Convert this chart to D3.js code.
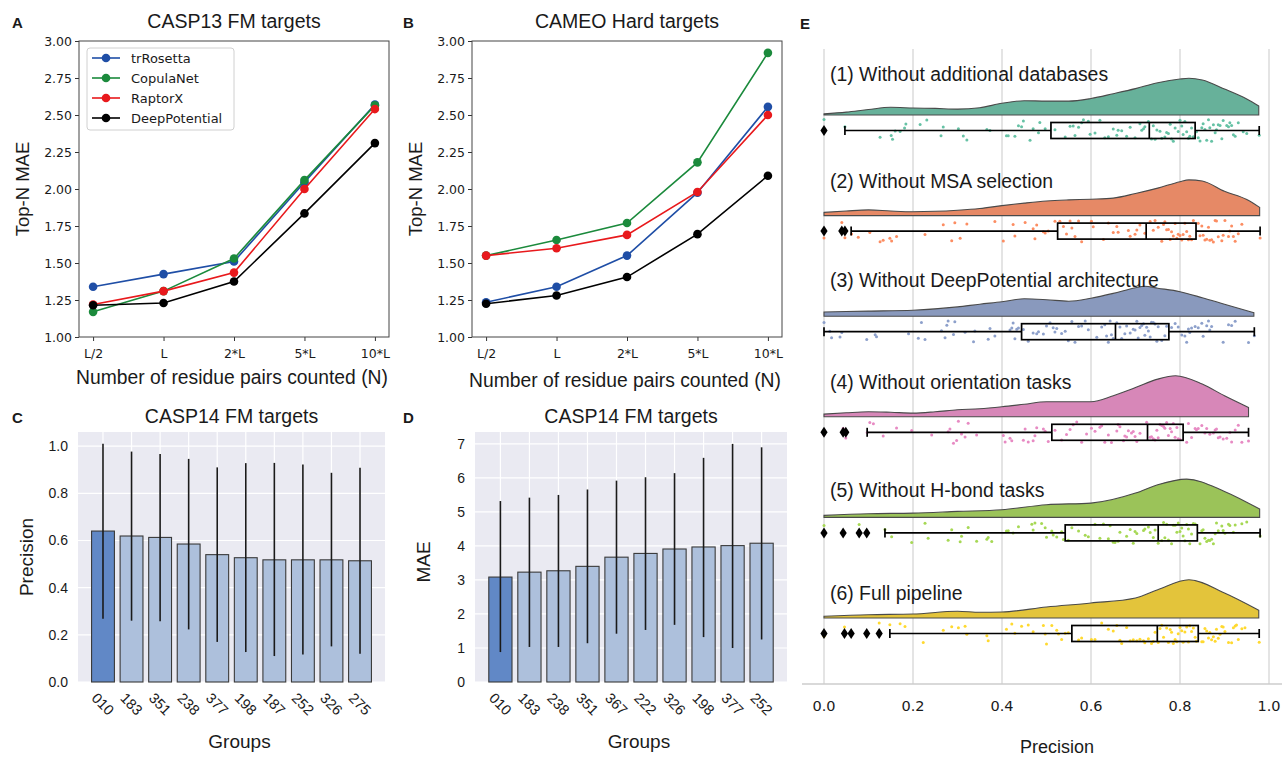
<!DOCTYPE html>
<html>
<head>
<meta charset="utf-8">
<script src="https://cdn.jsdelivr.net/npm/d3@7"></script>
<style>
body { margin: 0; background: #fff; }
text { font-family: "Liberation Sans", Arial, sans-serif; fill: #1a1a1a; }
.dv text, text.dv { font-family: "DejaVu Sans", sans-serif; }
</style>
</head>
<body>
<svg id="fig" width="1282" height="757"></svg>
<script>
// ---------- data: panels A and B ----------
const nLabels = ["L/2", "L", "2*L", "5*L", "10*L"];
const methods = ["trRosetta", "CopulaNet", "RaptorX", "DeepPotential"];
const methodColors = ["#1f4ea6", "#1b8a3c", "#e8191c", "#000000"];
const casp13 = [
    [1.34, 1.425, 1.51, 2.045, 2.57],
    [1.17, 1.31, 1.53, 2.06, 2.565],
    [1.22, 1.31, 1.435, 2.00, 2.54],
    [1.215, 1.23, 1.375, 1.835, 2.31]
];
const cameo = [
    [1.235, 1.34, 1.55, 1.975, 2.555],
    [1.55, 1.655, 1.77, 2.18, 2.92],
    [1.55, 1.60, 1.69, 1.98, 2.50],
    [1.225, 1.28, 1.405, 1.695, 2.09]
];
const maeTicks = [1.00, 1.25, 1.50, 1.75, 2.00, 2.25, 2.50, 2.75, 3.00];

// ---------- data: panels C and D ----------
const precGroups = ["010", "183", "351", "238", "377", "198", "187", "252", "326", "275"];
const precMean = [0.640, 0.619, 0.613, 0.585, 0.540, 0.527, 0.518, 0.518, 0.518, 0.514];
const precLo = [0.268, 0.260, 0.258, 0.223, 0.170, 0.127, 0.110, 0.117, 0.151, 0.120];
const precHi = [1.010, 0.977, 0.967, 0.946, 0.910, 0.928, 0.929, 0.922, 0.887, 0.908];
const precTicks = [0.0, 0.2, 0.4, 0.6, 0.8, 1.0];

const maeGroups = ["010", "183", "238", "351", "367", "222", "326", "198", "377", "252"];
const maeMean = [3.085, 3.23, 3.27, 3.40, 3.67, 3.78, 3.91, 3.97, 4.01, 4.08];
const maeLo = [0.88, 1.03, 1.03, 1.14, 1.42, 1.53, 1.68, 1.32, 1.00, 1.25];
const maeHi = [5.32, 5.42, 5.50, 5.66, 5.92, 6.02, 6.14, 6.59, 7.00, 6.90];
const maeBarTicks = [0, 1, 2, 3, 4, 5, 6, 7];

// ---------- data: panel E ----------
const rowNames = [
    "(1) Without additional databases",
    "(2) Without MSA selection",
    "(3) Without DeepPotential architecture",
    "(4) Without orientation tasks",
    "(5) Without H-bond tasks",
    "(6) Full pipeline"
];
const rowColors = ["#66c2a5", "#fc8d62", "#8da0cb", "#e78ac3", "#a6d854", "#ffd92f"];
const eTicks = [0.0, 0.2, 0.4, 0.6, 0.8, 1.0];

// density: [precision, density]
const kde1 = [[0, 0.11], [0.05, 0.29], [0.1, 0.55], [0.15, 0.77], [0.2, 0.7], [0.25, 0.66], [0.3, 0.59], [0.35, 0.73], [0.4, 1.17], [0.45, 1.43], [0.5, 1.39], [0.55, 1.39], [0.6, 1.65], [0.65, 2.13], [0.7, 2.64], [0.75, 3.23], [0.8, 3.6], [0.82, 3.67], [0.85, 3.5], [0.9, 2.6], [0.95, 1.6], [0.977, 0.9]];
const kde2 = [[0, 0.32], [0.05, 0.46], [0.1, 0.57], [0.15, 0.46], [0.2, 0.39], [0.25, 0.43], [0.3, 0.54], [0.35, 0.71], [0.4, 1.0], [0.45, 1.25], [0.5, 1.46], [0.55, 1.57], [0.6, 1.64], [0.65, 1.75], [0.7, 2.21], [0.75, 2.75], [0.8, 3.39], [0.82, 3.57], [0.85, 3.46], [0.9, 2.43], [0.95, 1.61], [0.979, 0.82]];
const kde3 = [[0, 0.42], [0.1, 0.51], [0.2, 0.6], [0.3, 0.93], [0.35, 1.2], [0.4, 1.44], [0.45, 1.74], [0.5, 1.65], [0.55, 1.5], [0.6, 1.8], [0.65, 2.28], [0.7, 2.85], [0.72, 3.0], [0.75, 2.8], [0.8, 2.45], [0.85, 1.85], [0.9, 1.2], [0.966, 0.35]];
const kde4 = [[0, 0.27], [0.05, 0.4], [0.1, 0.5], [0.15, 0.45], [0.2, 0.37], [0.25, 0.5], [0.3, 0.7], [0.35, 0.8], [0.4, 1.0], [0.45, 1.25], [0.5, 1.5], [0.55, 1.5], [0.6, 1.5], [0.65, 2.1], [0.7, 2.93], [0.75, 3.77], [0.79, 4.1], [0.85, 3.27], [0.9, 2.1], [0.954, 0.93]];
const kde5 = [[0, 0.2], [0.1, 0.37], [0.2, 0.43], [0.3, 0.6], [0.4, 0.77], [0.5, 1.27], [0.6, 1.43], [0.7, 2.43], [0.75, 3.27], [0.815, 3.83], [0.9, 2.6], [0.979, 0.83]];
const kde6 = [[0, 0.17], [0.1, 0.33], [0.2, 0.4], [0.3, 0.67], [0.35, 0.57], [0.4, 0.6], [0.5, 1.1], [0.6, 1.5], [0.7, 2.0], [0.75, 2.83], [0.82, 3.83], [0.9, 2.5], [0.977, 0.77]];
const kdes = [kde1, kde2, kde3, kde4, kde5, kde6];

const boxLo = [0.047, 0.061, 0.000, 0.097, 0.137, 0.148];
const boxQ1 = [0.510, 0.525, 0.444, 0.512, 0.542, 0.557];
const boxMed = [0.731, 0.724, 0.655, 0.727, 0.751, 0.749];
const boxQ3 = [0.834, 0.836, 0.775, 0.807, 0.839, 0.841];
const boxHi = [0.978, 0.980, 0.967, 0.954, 0.980, 0.978];
const fliers = [[0], [0, 0.040, 0.047], [], [0, 0.043, 0.049], [0, 0.043, 0.079, 0.096], [0, 0.046, 0.061, 0.096, 0.124]];

const pts1 = [0, 0.047, 0.126, 0.151, 0.154, 0.16, 0.171, 0.181, 0.184, 0.216, 0.231, 0.263, 0.268, 0.302, 0.313, 0.321, 0.366, 0.373, 0.41, 0.414, 0.429, 0.437, 0.444, 0.448, 0.463, 0.47, 0.482, 0.485, 0.497, 0.519, 0.542, 0.553, 0.56, 0.564, 0.572, 0.579, 0.583, 0.594, 0.598, 0.609, 0.62, 0.631, 0.639, 0.65, 0.658, 0.661, 0.669, 0.68, 0.688, 0.699, 0.71, 0.714, 0.718, 0.721, 0.729, 0.736, 0.74, 0.744, 0.748, 0.755, 0.759, 0.766, 0.77, 0.774, 0.778, 0.781, 0.785, 0.789, 0.796, 0.8, 0.804, 0.807, 0.811, 0.815, 0.819, 0.822, 0.826, 0.83, 0.837, 0.841, 0.845, 0.849, 0.852, 0.856, 0.86, 0.864, 0.867, 0.871, 0.875, 0.879, 0.882, 0.886, 0.89, 0.894, 0.897, 0.905, 0.909, 0.912, 0.916, 0.92, 0.924, 0.931, 0.942, 0.95, 0.978];
const pts2 = [0, 0.04, 0.047, 0.062, 0.077, 0.103, 0.126, 0.133, 0.148, 0.152, 0.163, 0.227, 0.268, 0.287, 0.294, 0.306, 0.321, 0.384, 0.403, 0.425, 0.429, 0.452, 0.47, 0.474, 0.478, 0.493, 0.497, 0.504, 0.519, 0.53, 0.538, 0.545, 0.553, 0.557, 0.564, 0.572, 0.579, 0.601, 0.605, 0.628, 0.639, 0.65, 0.658, 0.661, 0.684, 0.688, 0.699, 0.703, 0.71, 0.721, 0.733, 0.74, 0.744, 0.751, 0.759, 0.763, 0.766, 0.77, 0.774, 0.778, 0.781, 0.785, 0.789, 0.793, 0.796, 0.8, 0.804, 0.807, 0.811, 0.815, 0.819, 0.822, 0.826, 0.83, 0.841, 0.845, 0.849, 0.852, 0.856, 0.86, 0.864, 0.867, 0.871, 0.875, 0.879, 0.882, 0.886, 0.894, 0.897, 0.901, 0.909, 0.912, 0.916, 0.92, 0.924, 0.931, 0.939, 0.98];
const pts3 = [0, 0.013, 0.017, 0.036, 0.04, 0.096, 0.115, 0.118, 0.19, 0.212, 0.219, 0.227, 0.264, 0.272, 0.276, 0.279, 0.291, 0.294, 0.317, 0.336, 0.339, 0.369, 0.373, 0.384, 0.418, 0.422, 0.425, 0.429, 0.433, 0.437, 0.448, 0.459, 0.47, 0.478, 0.482, 0.493, 0.5, 0.508, 0.515, 0.519, 0.523, 0.534, 0.542, 0.549, 0.557, 0.564, 0.572, 0.579, 0.587, 0.594, 0.613, 0.624, 0.631, 0.635, 0.639, 0.643, 0.646, 0.65, 0.658, 0.665, 0.669, 0.676, 0.68, 0.688, 0.695, 0.699, 0.703, 0.706, 0.71, 0.714, 0.718, 0.721, 0.725, 0.729, 0.733, 0.736, 0.74, 0.744, 0.748, 0.751, 0.759, 0.766, 0.77, 0.781, 0.789, 0.796, 0.804, 0.811, 0.815, 0.819, 0.822, 0.826, 0.834, 0.841, 0.849, 0.852, 0.86, 0.864, 0.867, 0.871, 0.897, 0.909, 0.916, 0.924, 0.954, 0.967];
const pts4 = [0, 0.043, 0.049, 0.097, 0.103, 0.111, 0.133, 0.163, 0.197, 0.242, 0.279, 0.283, 0.291, 0.298, 0.302, 0.309, 0.317, 0.324, 0.343, 0.403, 0.407, 0.418, 0.422, 0.448, 0.452, 0.459, 0.47, 0.474, 0.478, 0.493, 0.497, 0.504, 0.519, 0.534, 0.545, 0.553, 0.56, 0.568, 0.579, 0.59, 0.601, 0.609, 0.62, 0.624, 0.631, 0.639, 0.646, 0.658, 0.661, 0.665, 0.673, 0.676, 0.68, 0.684, 0.691, 0.695, 0.699, 0.703, 0.71, 0.725, 0.733, 0.736, 0.74, 0.744, 0.748, 0.751, 0.755, 0.759, 0.763, 0.766, 0.77, 0.774, 0.778, 0.781, 0.785, 0.789, 0.793, 0.796, 0.8, 0.815, 0.819, 0.826, 0.834, 0.837, 0.841, 0.849, 0.856, 0.86, 0.867, 0.875, 0.879, 0.882, 0.886, 0.89, 0.897, 0.905, 0.912, 0.916, 0.924, 0.931, 0.939, 0.954];
const pts5 = [0, 0.043, 0.079, 0.096, 0.137, 0.152, 0.197, 0.227, 0.234, 0.279, 0.287, 0.306, 0.309, 0.324, 0.343, 0.366, 0.369, 0.377, 0.41, 0.414, 0.425, 0.437, 0.467, 0.47, 0.474, 0.489, 0.497, 0.5, 0.512, 0.515, 0.523, 0.534, 0.538, 0.549, 0.557, 0.572, 0.587, 0.594, 0.609, 0.62, 0.628, 0.639, 0.643, 0.65, 0.654, 0.661, 0.665, 0.68, 0.688, 0.695, 0.699, 0.703, 0.718, 0.721, 0.729, 0.733, 0.74, 0.744, 0.751, 0.759, 0.763, 0.766, 0.77, 0.774, 0.781, 0.785, 0.789, 0.793, 0.796, 0.8, 0.804, 0.807, 0.811, 0.815, 0.819, 0.822, 0.826, 0.83, 0.834, 0.845, 0.849, 0.852, 0.856, 0.86, 0.864, 0.867, 0.871, 0.875, 0.879, 0.882, 0.886, 0.894, 0.897, 0.901, 0.909, 0.912, 0.92, 0.924, 0.939, 0.95, 0.98];
const pts6 = [0, 0.046, 0.061, 0.096, 0.124, 0.148, 0.171, 0.182, 0.223, 0.268, 0.287, 0.302, 0.317, 0.321, 0.366, 0.369, 0.41, 0.422, 0.429, 0.444, 0.459, 0.47, 0.493, 0.497, 0.5, 0.512, 0.523, 0.527, 0.534, 0.542, 0.549, 0.572, 0.579, 0.601, 0.609, 0.624, 0.639, 0.65, 0.658, 0.665, 0.669, 0.68, 0.688, 0.695, 0.703, 0.71, 0.718, 0.721, 0.729, 0.736, 0.74, 0.744, 0.751, 0.755, 0.759, 0.763, 0.77, 0.774, 0.778, 0.781, 0.785, 0.789, 0.793, 0.796, 0.8, 0.804, 0.807, 0.811, 0.815, 0.819, 0.822, 0.826, 0.83, 0.834, 0.837, 0.849, 0.852, 0.856, 0.86, 0.864, 0.867, 0.871, 0.875, 0.879, 0.882, 0.886, 0.89, 0.894, 0.897, 0.901, 0.909, 0.916, 0.92, 0.924, 0.927, 0.931, 0.939, 0.946, 0.978];
const allPts = [pts1, pts2, pts3, pts4, pts5, pts6];

// ---------- drawing ----------
const svg = d3.select("#fig");

function letter(x, y, t) {
    svg.append("text").attr("x", x).attr("y", y)
        .style("font-size", "15px").style("font-weight", "bold").text(t);
}

// line chart (A, B)
function linePanel(x0, x1, data, title, withLegend, xlabY) {
    const y0 = 41, y1 = 337;
    const x = d3.scaleLinear().domain([-0.2, 4.2]).range([x0, x1]);
    const y = d3.scaleLinear().domain([1, 3]).range([y1, y0]);
    const g = svg.append("g");

    const ya = g.append("g").attr("class", "dv")
        .attr("transform", "translate(" + x0 + ",0)")
        .call(d3.axisLeft(y).tickValues(maeTicks).tickFormat(d3.format(".2f")).tickSize(4).tickSizeOuter(0));
    const xa = g.append("g").attr("class", "dv")
        .attr("transform", "translate(0," + y1 + ")")
        .call(d3.axisBottom(x).tickValues(d3.range(5)).tickFormat(i => nLabels[i]).tickSize(4).tickSizeOuter(0));
    [ya, xa].forEach(a => {
        a.select(".domain").remove();
        a.selectAll("line").attr("stroke", "#333");
        a.selectAll("text").style("font-size", "12.5px").attr("fill", "#222");
    });
    xa.selectAll("text").attr("dy", "1.1em");

    g.append("rect").attr("x", x0).attr("y", y0).attr("width", x1 - x0).attr("height", y1 - y0)
        .attr("fill", "none").attr("stroke", "#444").attr("stroke-width", 1);

    const line = d3.line().x((d, i) => x(i)).y(d => y(d));
    data.forEach((s, k) => {
        g.append("path").attr("d", line(s)).attr("fill", "none")
            .attr("stroke", methodColors[k]).attr("stroke-width", 1.6);
        g.selectAll(null).data(s).enter().append("circle")
            .attr("cx", (d, i) => x(i)).attr("cy", d => y(d)).attr("r", 4.3)
            .attr("fill", methodColors[k]);
    });

    g.append("text").attr("x", (x0 + x1) / 2).attr("y", 28).attr("text-anchor", "middle")
        .style("font-size", "19.5px").text(title);
    g.append("text").attr("x", (x0 + x1) / 2 - 2).attr("y", xlabY).attr("text-anchor", "middle")
        .style("font-size", "19.3px").text("Number of residue pairs counted (N)");
    g.append("text").attr("transform", "translate(" + (x0 - 50) + "," + ((y0 + y1) / 2) + ") rotate(-90)")
        .attr("text-anchor", "middle").style("font-size", "18.5px").text("Top-N MAE");

    if (withLegend) {
        const lg = g.append("g").attr("class", "dv");
        lg.append("rect").attr("x", x0 + 8).attr("y", 48).attr("width", 147).attr("height", 82)
            .attr("rx", 3).attr("fill", "#fff").attr("stroke", "#d0d0d0");
        methods.forEach((m, k) => {
            const ly = 58 + k * 20;
            lg.append("line").attr("x1", x0 + 13).attr("x2", x0 + 41).attr("y1", ly).attr("y2", ly)
                .attr("stroke", methodColors[k]).attr("stroke-width", 1.6);
            lg.append("circle").attr("cx", x0 + 27).attr("cy", ly).attr("r", 4.3).attr("fill", methodColors[k]);
            lg.append("text").attr("x", x0 + 52).attr("y", ly + 4.5).style("font-size", "13px").text(m);
        });
    }
}

// bar chart (C, D)
function barPanel(x0, x1, groups, mean, lo, hi, ticks, yMax, fmt, title) {
    const y0 = 432, y1 = 682;
    const x = d3.scaleLinear().domain([-0.875, 9.875]).range([x0, x1]);
    const y = d3.scaleLinear().domain([0, yMax]).range([y1, y0]);
    const step = x(1) - x(0);
    const g = svg.append("g");

    g.append("rect").attr("x", x0).attr("y", y0).attr("width", x1 - x0).attr("height", y1 - y0)
        .attr("fill", "#eaeaf2");
    g.selectAll(".hg").data(ticks).enter().append("line")
        .attr("x1", x0).attr("x2", x1).attr("y1", d => y(d)).attr("y2", d => y(d))
        .attr("stroke", "#fff").attr("stroke-width", 1.2);
    g.selectAll(".vg").data(groups).enter().append("line")
        .attr("x1", (d, i) => x(i)).attr("x2", (d, i) => x(i)).attr("y1", y0).attr("y2", y1)
        .attr("stroke", "#fff").attr("stroke-width", 1.2);

    g.selectAll(".bar").data(mean).enter().append("rect")
        .attr("x", (d, i) => x(i) - step * 0.4).attr("width", step * 0.8)
        .attr("y", d => y(d)).attr("height", d => y1 - y(d))
        .attr("fill", (d, i) => i === 0 ? "#6188c6" : "#adc0dc")
        .attr("stroke", "#3a3a3a").attr("stroke-width", 1.1);
    g.selectAll(".err").data(mean).enter().append("line")
        .attr("x1", (d, i) => x(i)).attr("x2", (d, i) => x(i))
        .attr("y1", (d, i) => y(lo[i])).attr("y2", (d, i) => y(hi[i]))
        .attr("stroke", "#1a1a1a").attr("stroke-width", 1.6);

    g.selectAll(".yt").data(ticks).enter().append("text")
        .attr("x", x0 - 10).attr("y", d => y(d)).attr("dy", "0.35em").attr("text-anchor", "end")
        .style("font-size", "14px").attr("fill", "#333").text(fmt);
    g.selectAll(".xt").data(groups).enter().append("text")
        .attr("transform", (d, i) => "translate(" + x(i) + ",704) rotate(45)")
        .attr("text-anchor", "middle").attr("dy", "0.35em")
        .style("font-size", "14.5px").attr("fill", "#333").text(d => d);

    g.append("text").attr("x", (x0 + x1) / 2).attr("y", 423).attr("text-anchor", "middle")
        .style("font-size", "19.5px").text(title);
    g.append("text").attr("x", (x0 + x1) / 2 + 8).attr("y", 748).attr("text-anchor", "middle")
        .style("font-size", "19px").text("Groups");
    return g;
}

// E: raincloud
function raincloud() {
    const x = d3.scaleLinear().domain([0, 1]).range([824, 1269]);
    const base = d3.scalePoint().domain(d3.range(6)).range([115, 618]);
    const dens = 10; // px per density unit
    const labelRise = [34, 28, 29, 28, 20, 18];
    const jitter = (i, r) => {
        const s = Math.sin(i * 127.1 + r * 311.7) * 43758.5453;
        return (s - Math.floor(s) - 0.5) * 22;
    };
    const g = svg.append("g");

    g.selectAll(".eg").data(eTicks).enter().append("line")
        .attr("x1", d => x(d)).attr("x2", d => x(d)).attr("y1", 49).attr("y2", 684)
        .attr("stroke", "#d2d2d2").attr("stroke-width", 1.2);
    g.append("line").attr("x1", 802).attr("x2", 1282).attr("y1", 684).attr("y2", 684)
        .attr("stroke", "#cccccc").attr("stroke-width", 1.3);
    g.selectAll(".et").data(eTicks).enter().append("text").attr("class", "dv")
        .attr("x", d => x(d)).attr("y", 711).attr("text-anchor", "middle")
        .style("font-size", "14.5px").attr("fill", "#333").text(d3.format(".1f"));
    g.append("text").attr("x", 1057).attr("y", 753).attr("text-anchor", "middle")
        .style("font-size", "18px").attr("fill", "#333").text("Precision");

    const diamond = "M0,-5.5L3.6,0L0,5.5L-3.6,0Z";

    rowNames.forEach((name, r) => {
        const b = base(r);
        const cy = b + 15.5;
        const c = d3.hsl(rowColors[r]);
        c.s *= 0.75;

        const area = d3.area().x(d => x(d[0])).y0(b).y1(d => b - d[1] * dens).curve(d3.curveMonotoneX);
        g.append("path").attr("d", area(kdes[r]))
            .attr("fill", c.darker(0.15).formatHex()).attr("stroke", "#4a4a4a").attr("stroke-width", 1.1);

        g.selectAll(null).data(allPts[r]).enter().append("circle")
            .attr("cx", d => x(d)).attr("cy", (d, i) => cy + jitter(i, r))
            .attr("r", 1.5).attr("fill", rowColors[r]);

        const st = g.append("g").attr("stroke", "#000").attr("stroke-width", 1.7).attr("fill", "none");
        st.append("line").attr("x1", x(boxLo[r])).attr("x2", x(boxQ1[r])).attr("y1", cy).attr("y2", cy);
        st.append("line").attr("x1", x(boxQ3[r])).attr("x2", x(boxHi[r])).attr("y1", cy).attr("y2", cy);
        st.append("line").attr("x1", x(boxLo[r])).attr("x2", x(boxLo[r])).attr("y1", cy - 4.5).attr("y2", cy + 4.5);
        st.append("line").attr("x1", x(boxHi[r])).attr("x2", x(boxHi[r])).attr("y1", cy - 4.5).attr("y2", cy + 4.5);
        st.append("rect").attr("x", x(boxQ1[r])).attr("width", x(boxQ3[r]) - x(boxQ1[r]))
            .attr("y", cy - 8).attr("height", 16);
        st.append("line").attr("x1", x(boxMed[r])).attr("x2", x(boxMed[r])).attr("y1", cy - 8).attr("y2", cy + 8);

        g.selectAll(null).data(fliers[r]).enter().append("path")
            .attr("d", diamond).attr("fill", "#000")
            .attr("transform", d => "translate(" + x(d) + "," + cy + ")");

        g.append("text").attr("x", 830).attr("y", b - labelRise[r])
            .style("font-size", "19.4px").attr("fill", "#111").text(name);
    });
}

linePanel(79, 389, casp13, "CASP13 FM targets", true, 384);
linePanel(472, 782, cameo, "CAMEO Hard targets", false, 387);

const gc = barPanel(78, 385, precGroups, precMean, precLo, precHi, precTicks, 1.06, d3.format(".1f"), "CASP14 FM targets");
gc.append("text").attr("transform", "translate(33,557) rotate(-90)").attr("text-anchor", "middle")
    .style("font-size", "19px").text("Precision");
const gd = barPanel(475, 787, maeGroups, maeMean, maeLo, maeHi, maeBarTicks, 7.35, d3.format("d"), "CASP14 FM targets");
gd.append("text").attr("transform", "translate(430,562) rotate(-90)").attr("text-anchor", "middle")
    .style("font-size", "19px").text("MAE");

raincloud();

letter(12, 28, "A");
letter(403, 28, "B");
letter(12, 423, "C");
letter(403, 423, "D");
letter(800, 29, "E");
</script>
</body>
</html>
